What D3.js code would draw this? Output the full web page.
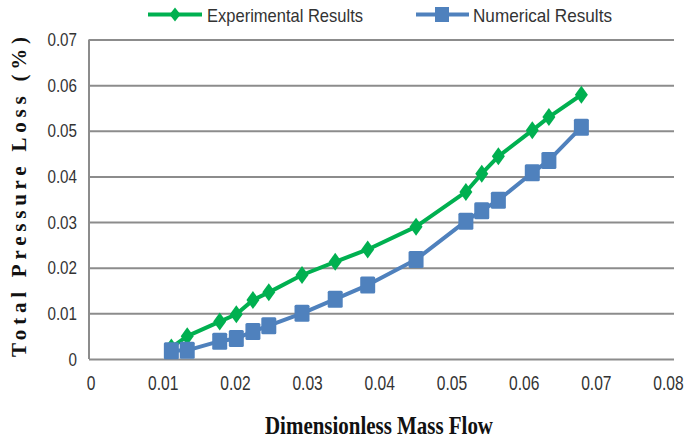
<!DOCTYPE html>
<html>
<head>
<meta charset="utf-8">
<script src="https://cdn.jsdelivr.net/npm/d3@7"></script>
<style>
  body { margin: 0; background: #fff; }
  svg { display: block; }
</style>
</head>
<body>
<svg id="chart"></svg>
<script>
// data
var massFlow = [0.0112, 0.0134, 0.0179, 0.0202, 0.0225, 0.0247, 0.0293, 0.0339, 0.0384, 0.0451, 0.0520, 0.0542, 0.0565, 0.0612, 0.0635, 0.0680];
var experimental = [0.0025, 0.0050, 0.0082, 0.0098, 0.0129, 0.0146, 0.0184, 0.0213, 0.0240, 0.0290, 0.0366, 0.0406, 0.0444, 0.0501, 0.0530, 0.0579];
var numerical = [0.0018, 0.0019, 0.0039, 0.0045, 0.0060, 0.0073, 0.0100, 0.0131, 0.0162, 0.0218, 0.0302, 0.0325, 0.0348, 0.0408, 0.0435, 0.0508];
var xTicks = [0, 0.01, 0.02, 0.03, 0.04, 0.05, 0.06, 0.07, 0.08];
var yTicks = [0, 0.01, 0.02, 0.03, 0.04, 0.05, 0.06, 0.07];
var seriesNames = ["Experimental Results", "Numerical Results"];

var width = 687, height = 443;
var green = "#00b050", blue = "#4f81bd";
var narrow = "'Liberation Sans Narrow', 'Arial Narrow', 'Liberation Sans', sans-serif";
var serif = "'Liberation Serif', 'Times New Roman', serif";

var svg = d3.select("#chart")
  .attr("width", width)
  .attr("height", height);

var x = d3.scaleLinear().domain([0, 0.08]).range([90.5, 668]);
var y = d3.scaleLinear().domain([0, 0.07]).range([359, 39.5]);

// gridlines
var grid = svg.append("g")
  .attr("transform", "translate(89,0)")
  .call(d3.axisLeft(y).tickValues(yTicks).tickSize(-585).tickFormat(""));
grid.select(".domain").remove();
grid.selectAll("line").attr("stroke", "#8c8c8c").attr("stroke-width", 2);

// y axis line
svg.append("line")
  .attr("x1", 89).attr("x2", 89)
  .attr("y1", y(0.07)).attr("y2", y(0))
  .attr("stroke", "#8c8c8c").attr("stroke-width", 2);

var fmt = d => d === 0 ? "0" : d3.format(".2f")(d);

// y tick labels (squeezed to look like a narrow face)
var yAxis = svg.append("g")
  .attr("transform", "translate(89,0)")
  .call(d3.axisLeft(y).tickValues(yTicks).tickSize(0).tickPadding(15).tickFormat(fmt));
yAxis.select(".domain").remove();
yAxis.selectAll("text")
  .attr("font-family", narrow).attr("font-size", 19).attr("fill", "#333")
  .attr("transform", "scale(0.8,1)");

// x tick labels
var xAxis = svg.append("g")
  .attr("transform", "translate(0,359)")
  .call(d3.axisBottom(x).tickValues(xTicks).tickSize(0).tickPadding(17).tickFormat(fmt));
xAxis.select(".domain").remove();
xAxis.selectAll("text")
  .attr("font-family", narrow).attr("font-size", 20).attr("fill", "#333")
  .attr("transform", "scale(0.78,1)");

// lines
var line = d3.line()
  .x((d, i) => x(massFlow[i]))
  .y(d => y(d));

svg.append("path")
  .datum(experimental)
  .attr("d", line)
  .attr("fill", "none").attr("stroke", green).attr("stroke-width", 4)
  .attr("stroke-linejoin", "round");

svg.append("path")
  .datum(numerical)
  .attr("d", line)
  .attr("fill", "none").attr("stroke", blue).attr("stroke-width", 4)
  .attr("stroke-linejoin", "round");

function diamond(w, h) {
  return `M0,${-h / 2}L${w / 2},0L0,${h / 2}L${-w / 2},0Z`;
}

svg.selectAll(".exp")
  .data(experimental)
  .enter()
  .append("path")
  .attr("class", "exp")
  .attr("d", diamond(13, 18))
  .attr("fill", green)
  .attr("transform", (d, i) => `translate(${x(massFlow[i])},${y(d)})`);

svg.selectAll(".num")
  .data(numerical)
  .enter()
  .append("rect")
  .attr("class", "num")
  .attr("x", (d, i) => x(massFlow[i]) - 7.5)
  .attr("y", d => y(d) - 8.5)
  .attr("width", 15).attr("height", 17)
  .attr("rx", 1.5)
  .attr("fill", blue);

// legend
var legend = svg.append("g");
legend.append("line")
  .attr("x1", 148).attr("x2", 202).attr("y1", 14.5).attr("y2", 14.5)
  .attr("stroke", green).attr("stroke-width", 4);
legend.append("path")
  .attr("d", diamond(11, 14))
  .attr("fill", green)
  .attr("transform", "translate(175,14.5)");
legend.append("text")
  .attr("x", 207).attr("y", 22)
  .attr("font-family", narrow).attr("font-size", 19).attr("fill", "#333")
  .attr("textLength", 156).attr("lengthAdjust", "spacingAndGlyphs")
  .text(seriesNames[0]);

legend.append("line")
  .attr("x1", 416).attr("x2", 469).attr("y1", 14.5).attr("y2", 14.5)
  .attr("stroke", blue).attr("stroke-width", 4);
legend.append("rect")
  .attr("x", 435).attr("y", 7).attr("width", 14).attr("height", 15)
  .attr("fill", blue);
legend.append("text")
  .attr("x", 473).attr("y", 22)
  .attr("font-family", narrow).attr("font-size", 19).attr("fill", "#333")
  .attr("textLength", 139).attr("lengthAdjust", "spacingAndGlyphs")
  .text(seriesNames[1]);

// axis titles
svg.append("text")
  .attr("x", 379).attr("y", 434)
  .attr("text-anchor", "middle")
  .attr("font-family", serif)
  .attr("font-weight", "bold").attr("font-size", 25).attr("fill", "#111")
  .attr("textLength", 228).attr("lengthAdjust", "spacingAndGlyphs")
  .text("Dimensionless Mass Flow");

svg.append("text")
  .attr("transform", "translate(26,197) rotate(-90)")
  .attr("text-anchor", "middle")
  .attr("font-family", serif)
  .attr("font-weight", "bold").attr("font-size", 21).attr("fill", "#111")
  .attr("textLength", 320).attr("lengthAdjust", "spacing")
  .text("Total Pressure Loss (%)");
</script>
</body>
</html>
